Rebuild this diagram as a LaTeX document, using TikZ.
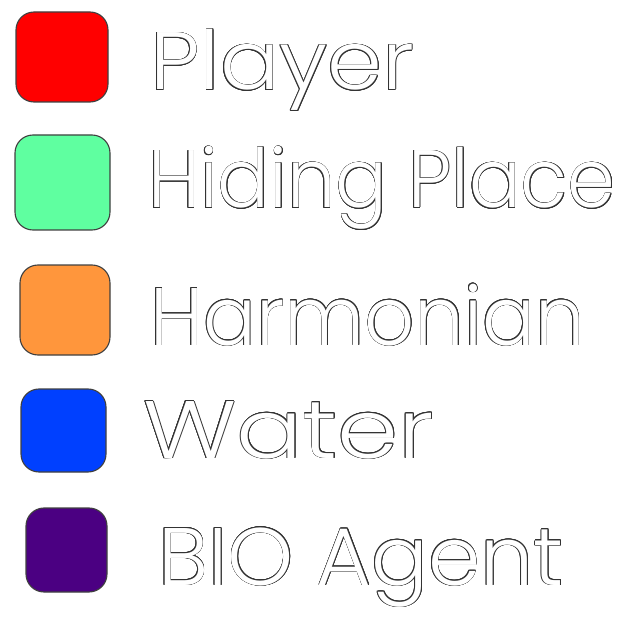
\documentclass[tikz,border=0pt]{standalone}
\usepackage{fontspec}
\setmainfont{Poppins}[UprightFont=* Light]
\usepackage{contour}
\contourlength{0.45pt}
\usetikzlibrary{positioning}

% white letters with a thin dark rim, stretched sideways by #1
\newcommand{\outlined}[2]{\scalebox{#1}[1]{\contour{black!80}{\color{white}#2}}}

\begin{document}
\begin{tikzpicture}[
    swatch/.style={draw=black!75, line width=0.8pt, rounded corners=0.45cm, minimum width=2.25cm, minimum height=2.25cm},
    label/.style={anchor=base west, inner sep=0pt, font=\fontsize{58}{58}\selectfont}
]
\useasboundingbox (0,0) rectangle (16.025,-16);
\definecolor{playerred}{RGB}{255,0,0}
\definecolor{hidegreen}{RGB}{95,255,160}
\definecolor{harmorange}{RGB}{255,150,60}
\definecolor{waterblue}{RGB}{0,64,255}
\definecolor{bioviolet}{RGB}{75,0,130}
\node[swatch, fill=playerred, minimum width=2.3cm] (player) at (1.55,-1.425) {};
\node[swatch, fill=hidegreen, minimum width=2.375cm, minimum height=2.375cm] (hiding) at (1.5625,-4.5625) {};
\node[swatch, fill=harmorange] (harmonian) at (1.625,-7.75) {};
\node[swatch, fill=waterblue, minimum width=2.125cm, minimum height=2.075cm] (water) at (1.5875,-10.7625) {};
\node[swatch, fill=bioviolet, minimum width=2.025cm, minimum height=2.1cm] (bio) at (1.6625,-13.75) {};
\node[label] (playertxt) at (3.75,-2.25) {\outlined{1.08}{Player}};
\node[label] (hidingtxt) at (3.7,-5.2) {\outlined{0.94}{Hiding Place}};
\node[label] (harmoniantxt) at (3.75,-8.625) {\outlined{0.96}{Harmonian}};
\node[label] (watertxt) at (3.575,-11.45) {\outlined{1.2}{Water}};
\node[label] (biotxt) at (3.95,-14.625) {\outlined{1.03}{BIO Agent}};
\end{tikzpicture}
\end{document}
